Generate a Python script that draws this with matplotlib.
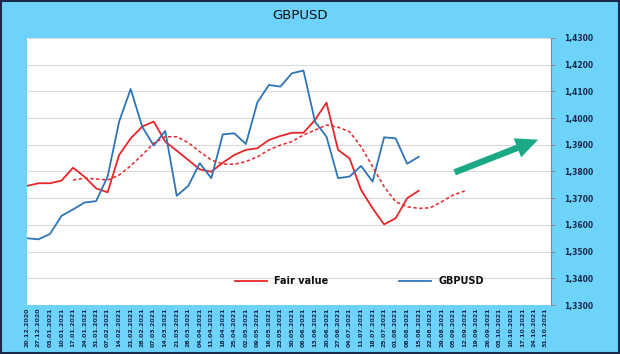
import matplotlib
matplotlib.use("Agg")
import matplotlib.pyplot as plt
from matplotlib.patches import Rectangle

# weekly dates on the category axis
dates = ["20.12.2020", "27.12.2020", "03.01.2021", "10.01.2021", "17.01.2021", "24.01.2021",
         "31.01.2021", "07.02.2021", "14.02.2021", "21.02.2021", "28.02.2021", "07.03.2021",
         "14.03.2021", "21.03.2021", "28.03.2021", "04.04.2021", "11.04.2021", "18.04.2021",
         "25.04.2021", "02.05.2021", "09.05.2021", "16.05.2021", "23.05.2021", "30.05.2021",
         "06.06.2021", "13.06.2021", "20.06.2021", "27.06.2021", "04.07.2021", "11.07.2021",
         "18.07.2021", "25.07.2021", "01.08.2021", "08.08.2021", "15.08.2021", "22.08.2021",
         "29.08.2021", "05.09.2021", "12.09.2021", "19.09.2021", "26.09.2021", "03.10.2021",
         "10.10.2021", "17.10.2021", "24.10.2021", "31.10.2021"]

gbpusd = [1.3550, 1.3546, 1.3566, 1.3634, 1.3658, 1.3684, 1.3689, 1.3781, 1.3987, 1.4109,
          1.3968, 1.3897, 1.3952, 1.3709, 1.3746, 1.3831, 1.3775, 1.3939, 1.3943, 1.3903,
          1.4059, 1.4124, 1.4118, 1.4168, 1.4178, 1.3987, 1.3930, 1.3775, 1.3781, 1.3821,
          1.3762, 1.3928, 1.3924, 1.3829, 1.3855]

fair_value = [1.3746, 1.3756, 1.3756, 1.3766, 1.3814, 1.3780, 1.3737, 1.3722, 1.3862, 1.3924,
              1.3968, 1.3987, 1.3912, 1.3878, 1.3843, 1.3808, 1.3799, 1.3833, 1.3862, 1.3881,
              1.3887, 1.3918, 1.3933, 1.3945, 1.3945, 1.3993, 1.4058, 1.3881, 1.3849, 1.3731,
              1.3662, 1.3602, 1.3625, 1.3700, 1.3728]

# smoothed fair value trend, starts at 17.01.2021
trend_start = 4
fair_trend = [1.3768, 1.3775, 1.3772, 1.3768, 1.3787, 1.3821, 1.3862, 1.3906, 1.3930, 1.3930,
              1.3908, 1.3874, 1.3843, 1.3828, 1.3827, 1.3837, 1.3855, 1.3881, 1.3899, 1.3912,
              1.3937, 1.3955, 1.3974, 1.3966, 1.3949, 1.3893, 1.3818, 1.3743, 1.3687, 1.3668,
              1.3662, 1.3664, 1.3687, 1.3712, 1.3727]

yticks = [1.33, 1.34, 1.35, 1.36, 1.37, 1.38, 1.39, 1.40, 1.41, 1.42, 1.43]

bg = "#6dd3fb"
red = "#e8262a"
blue = "#2e75b6"
navy = "#1b2a4a"

fig = plt.figure(figsize=(6.2, 3.54), dpi=100, facecolor=bg)
ax = fig.add_axes([0.0435, 0.1384, 0.8455, 0.7543])
ax.set_facecolor("white")

x_gb = list(range(len(gbpusd)))
x_fv = list(range(len(fair_value)))
x_tr = list(range(trend_start, trend_start + len(fair_trend)))

ax.plot(x_fv, fair_value, color=red, lw=1.3, label="Fair value")
ax.plot(x_gb, gbpusd, color=blue, lw=1.3, label="GBPUSD")
ax.plot(x_tr, fair_trend, color=red, lw=1.1, linestyle=(0, (2.2, 1.6)))

# forecast arrow
ax.annotate("", xy=(44.6, 1.3923), xytext=(36.9, 1.3793),
            arrowprops=dict(arrowstyle="simple,head_width=1.05,head_length=1.15,tail_width=0.33",
                            mutation_scale=14, color="#1aa886", lw=0))

ax.set_xlim(0, 45.5)
ax.set_ylim(1.33, 1.43)
ax.set_yticks(yticks)
ax.set_yticklabels([f"{v:.4f}".replace(".", ",") for v in yticks])
ax.yaxis.tick_right()
ax.tick_params(axis="y", length=3, color="#888888", pad=6,
               labelsize=5.5, labelcolor=navy)
for lab in ax.get_yticklabels():
    lab.set_fontweight("bold")

ax.set_xticks(range(len(dates)))
ax.set_xticklabels(dates, rotation=90, fontsize=4.5, fontweight="bold", color=navy)
ax.tick_params(axis="x", length=0, pad=2)

ax.grid(axis="y", color="#d9d9d9", lw=0.8)
ax.set_axisbelow(True)
for side in ["left", "top", "bottom"]:
    ax.spines[side].set_visible(False)
ax.spines["right"].set_color("#888888")
ax.spines["right"].set_linewidth(0.8)

leg = ax.legend(loc="center", bbox_to_anchor=(0.634, 0.09), ncol=2, frameon=False,
                fontsize=7, handlelength=3.3, columnspacing=7.2, handletextpad=0.8)
for t in leg.get_texts():
    t.set_fontweight("bold")
    t.set_color("#111111")

fig.text(0.484, 0.957, "GBPUSD", ha="center", va="center", fontsize=9.5, color="#111111")

# outer frame
fig.patches.append(Rectangle((0.002, 0.003), 0.996, 0.994, transform=fig.transFigure,
                             fill=False, edgecolor=navy, lw=1.5))

fig.savefig("out.png", dpi=100, facecolor=bg)
